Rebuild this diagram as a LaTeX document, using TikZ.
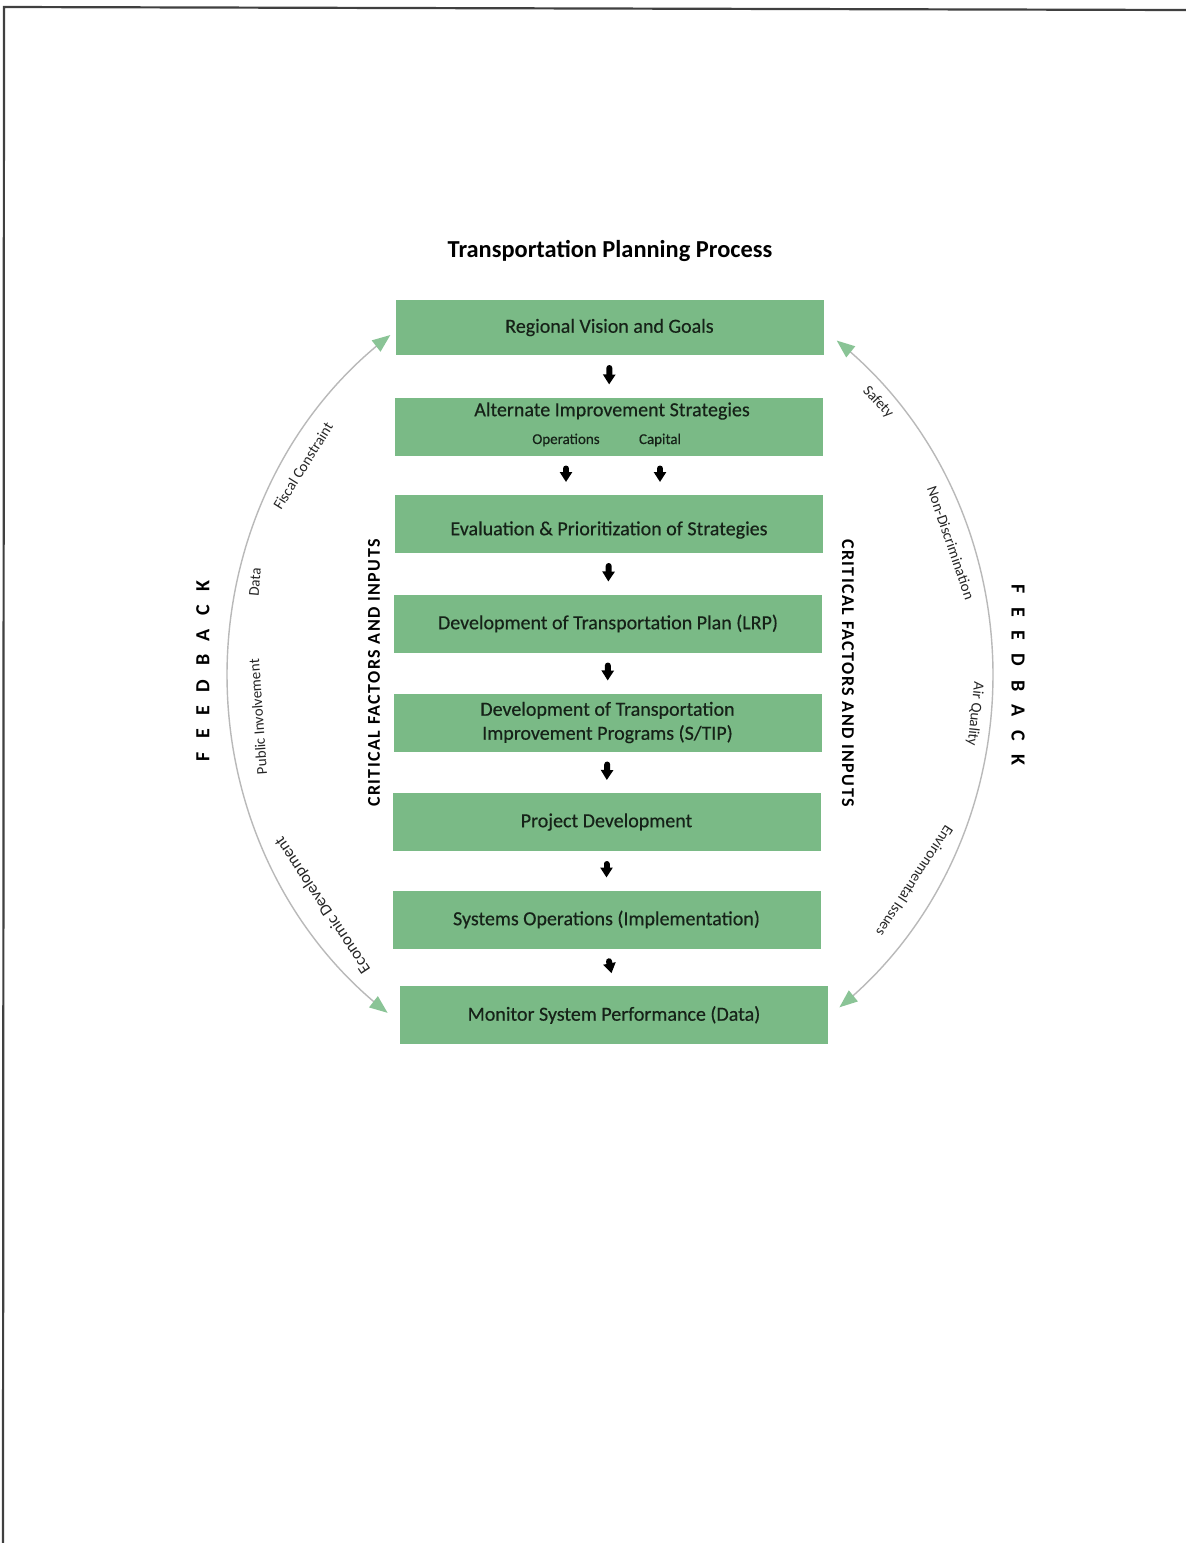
\documentclass[tikz,border=0pt]{standalone}
\usepackage{fontspec}
\setmainfont{Carlito}
\usetikzlibrary{arrows.meta,calc}
\definecolor{boxgreen}{RGB}{122,186,134}
\definecolor{tipgreen}{RGB}{138,196,150}
\definecolor{boxtext}{RGB}{22,34,24}
\definecolor{arcgray}{RGB}{185,185,185}
\begin{document}
\begin{tikzpicture}[x=0.5pt,y=-0.5pt,
  boxfont/.style={font=\fontsize{10}{12}\selectfont\addfontfeatures{FakeBold=0.4}},
  stepbox/.style={fill=boxgreen, draw=none, minimum width=214pt, minimum height=29pt,
    inner sep=0pt, text=boxtext, boxfont, align=center},
  subtext/.style={text=boxtext, font=\fontsize{7.5}{9}\selectfont\addfontfeatures{FakeBold=0.4}, inner sep=1pt},
  flowarrow/.style={draw=black, line width=3pt, line cap=round,
    -{Triangle[length=5pt,width=6pt]}, shorten <=6.3pt, shorten >=6.3pt},
  feedarc/.style={draw=arcgray, line width=0.7pt,
    {Triangle[length=9pt,width=7pt,color=tipgreen]}-{Triangle[length=9pt,width=7pt,color=tipgreen]}},
  arclabel/.style={text=black!85, font=\fontsize{7.5}{9}\selectfont, inner sep=0pt},
  sidelabel/.style={font=\fontsize{9}{10}\bfseries\addfontfeatures{LetterSpace=8}, inner sep=0pt},
  fblabel/.style={font=\fontsize{10}{12}\bfseries, inner sep=0pt}
]
\useasboundingbox (0,0) rectangle (1186,1543);
\fill[white] (0,0) rectangle (1186,1543);
% page frame of the scan
\draw[line width=1.1pt, draw=black!75] (3,1543) -- (4,7) -- (1186,10);

% title
\node[font=\fontsize{12.2}{14}\bfseries, inner sep=0pt] (title) at (610,251) {Transportation Planning Process};

% boxes
\node[stepbox, minimum height=27.5pt] (b1) at (609.5,327.5) {Regional Vision and Goals};
\node[stepbox] (b2) at (609,426.5) {};
\node[text=boxtext, boxfont, inner sep=0pt] (b2t) at (612,411) {Alternate Improvement Strategies};
\node[subtext] (op) at (566,440) {Operations};
\node[subtext] (cap) at (660,440) {Capital};
\node[stepbox] (b3) at (609,524) {\raisebox{-3pt}[\height][\depth]{Evaluation \& Prioritization of Strategies}};
\node[stepbox] (b4) at (608,623.5) {Development of Transportation Plan (LRP)};
\node[stepbox] (b5) at (607.5,722.5) {Development of Transportation\\Improvement Programs (S/TIP)};
\node[stepbox] (b6) at (606.5,822) {Project Development};
\node[stepbox] (b7) at (606.5,919.5) {Systems Operations (Implementation)};
\node[stepbox] (b8) at (614,1015) {Monitor System Performance (Data)};

% flow arrows
\draw[flowarrow] (b1.south) -- (b2.north);
\draw[flowarrow] (op |- b2.south) -- (op |- b3.north);
\draw[flowarrow] (cap |- b2.south) -- (cap |- b3.north);
\draw[flowarrow] (b3.south) -- (b4.north);
\draw[flowarrow] (b4.south) -- (b5.north);
\draw[flowarrow] (b5.south) -- (b6.north);
\draw[flowarrow] (b6.south) -- (b7.north);
\draw[flowarrow] (b7.south) -- (b8.north);

% side labels
\node[sidelabel, rotate=90] (cfl) at (374,673) {CRITICAL FACTORS AND INPUTS};
\node[sidelabel, rotate=-90] (cfr) at (848,673) {CRITICAL FACTORS AND INPUTS};
\node[fblabel, rotate=90] (fbl) at (203,671) {F\hskip6.8pt E\hskip6.8pt E\hskip6.8pt D\hskip6.8pt B\hskip6.8pt A\hskip6.8pt C\hskip6.8pt K};
\node[fblabel, rotate=-90] (fbr) at (1018,675) {F\hskip6.8pt E\hskip6.8pt E\hskip6.8pt D\hskip6.8pt B\hskip6.8pt A\hskip6.8pt C\hskip6.8pt K};

% feedback arcs
\draw[feedarc] plot[domain=235:125.5, samples=90, smooth, variable=\t] ({610+383*cos(\t)},{675+415*sin(\t)});
\draw[feedarc] plot[domain=-53.7:53.2, samples=90, smooth, variable=\t] ({610+383*cos(\t)},{675+415*sin(\t)});

% arc labels, left
\node[arclabel, rotate=58] (fisc) at (303,466) {Fiscal Constraint};
\node[arclabel, rotate=85] (data) at (255,582) {Data};
\node[arclabel, rotate=94] (pub) at (258,717) {Public Involvement};
\node[arclabel, rotate=123.6, font=\fontsize{8.3}{10}\selectfont] (econ) at (323,905) {Economic Development};
% arc labels, right
\node[arclabel, rotate=-47] (safe) at (878,402) {Safety};
\node[arclabel, rotate=-71] (nond) at (951,543) {Non-Discrimination};
\node[arclabel, rotate=-96] (airq) at (975,714) {Air Quality};
\node[arclabel, rotate=-123] (envi) at (915,881) {Environmental Issues};
\end{tikzpicture}
\end{document}
